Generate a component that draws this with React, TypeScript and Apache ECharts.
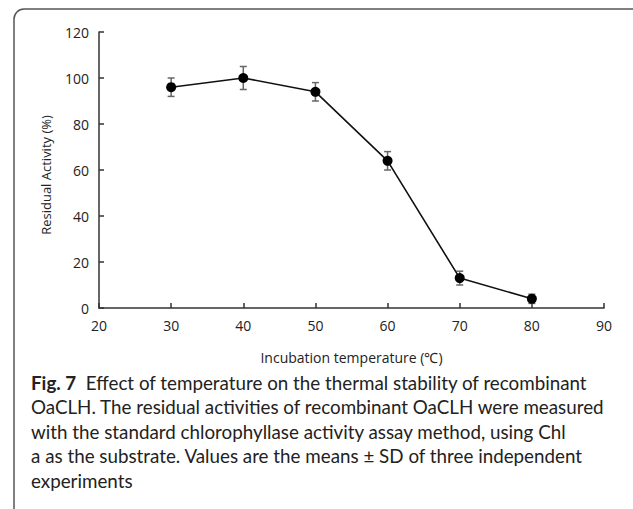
import React, { useEffect, useRef } from "react";
import * as echarts from "echarts";

const temps = [30, 40, 50, 60, 70, 80];
const activity = [96, 100, 94, 64, 13, 4];
const sd = [4, 5, 4, 4, 3, 2];
const xTicks = [20, 30, 40, 50, 60, 70, 80, 90];
const yTicks = [0, 20, 40, 60, 80, 100, 120];

const xName = "Incubation temperature (℃)";
const yName = "Residual Activity (%)";
const captionLines = [
  "{b|Fig. 7}  Effect of temperature on the thermal stability of recombinant",
  "OaCLH. The residual activities of recombinant OaCLH were measured",
  "with the standard chlorophyllase activity assay method, using Chl",
  "a as the substrate. Values are the means ± SD of three independent",
  "experiments",
];

const FONT = "Open Sans";
const CAP_FONT = "Lato";

export default function App() {
  const ref = useRef<HTMLDivElement>(null);
  useEffect(() => {
    if (!ref.current) return;
    const chart = echarts.init(ref.current, null, { renderer: "svg" });
    const points = temps.map((t, i) => [t, activity[i]]);
    const errData = temps.map((t, i) => [t, activity[i] - sd[i], activity[i] + sd[i]]);
    chart.setOption({
      animation: false,
      backgroundColor: "#fff",
      textStyle: { fontFamily: FONT },
      grid: { left: 99, right: 29, top: 32, bottom: 201 },
      xAxis: {
        type: "value",
        min: xTicks[0],
        max: xTicks[xTicks.length - 1],
        interval: 10,
        name: xName,
        nameLocation: "middle",
        nameGap: 42,
        nameTextStyle: { fontFamily: FONT, fontSize: 14, color: "#222" },
        axisLine: { show: true, lineStyle: { color: "#333", width: 1.5 } },
        axisTick: { show: true, inside: true, length: 5, lineStyle: { color: "#333", width: 1.5 } },
        axisLabel: { fontFamily: FONT, fontSize: 14, color: "#222", margin: 10 },
        splitLine: { show: false },
      },
      yAxis: {
        type: "value",
        min: yTicks[0],
        max: yTicks[yTicks.length - 1],
        interval: 20,
        name: yName,
        nameLocation: "middle",
        nameGap: 47,
        nameTextStyle: { fontFamily: FONT, fontSize: 13, color: "#222", padding: [0, 10, 0, 0] },
        axisLine: { show: true, lineStyle: { color: "#333", width: 1.5 } },
        axisTick: { show: true, inside: true, length: 5, lineStyle: { color: "#333", width: 1.5 } },
        axisLabel: { fontFamily: FONT, fontSize: 14, color: "#222", margin: 10 },
        splitLine: { show: false },
      },
      series: [
        {
          type: "custom",
          data: errData,
          z: 1,
          renderItem: (params: any, api: any) => {
            const x = api.value(0);
            const lo = api.coord([x, api.value(1)]);
            const hi = api.coord([x, api.value(2)]);
            const w = 3.5;
            const style = { stroke: "#666", lineWidth: 1.5 };
            return {
              type: "group",
              children: [
                { type: "line", shape: { x1: lo[0], y1: lo[1], x2: hi[0], y2: hi[1] }, style },
                { type: "line", shape: { x1: lo[0] - w, y1: lo[1], x2: lo[0] + w, y2: lo[1] }, style },
                { type: "line", shape: { x1: hi[0] - w, y1: hi[1], x2: hi[0] + w, y2: hi[1] }, style },
              ],
            };
          },
        },
        {
          type: "line",
          data: points,
          z: 2,
          symbol: "circle",
          symbolSize: 10,
          itemStyle: { color: "#000" },
          lineStyle: { color: "#111", width: 1.6 },
        },
      ],
      graphic: [
        {
          type: "rect",
          shape: { x: 14, y: 9, width: 628, height: 600, r: 10 },
          style: { fill: "none", stroke: "#555", lineWidth: 1.5 },
          silent: true,
        },
        ...captionLines.map((line, i) => ({
          type: "text",
          left: 31,
          top: 370 + i * 24.5,
          style: {
            text: line,
            fontFamily: CAP_FONT,
            fontSize: 18.8,
            lineHeight: 24,
            fill: "#222",
            rich: {
              b: { fontFamily: CAP_FONT, fontSize: 18.8, lineHeight: 24, fontWeight: "bold", fill: "#222" },
            },
          },
        })),
      ],
    });
    return () => chart.dispose();
  }, []);
  return (
    <div
      ref={ref}
      style={{ position: "fixed", left: 0, top: 0, width: 633, height: 509 }}
    />
  );
}
